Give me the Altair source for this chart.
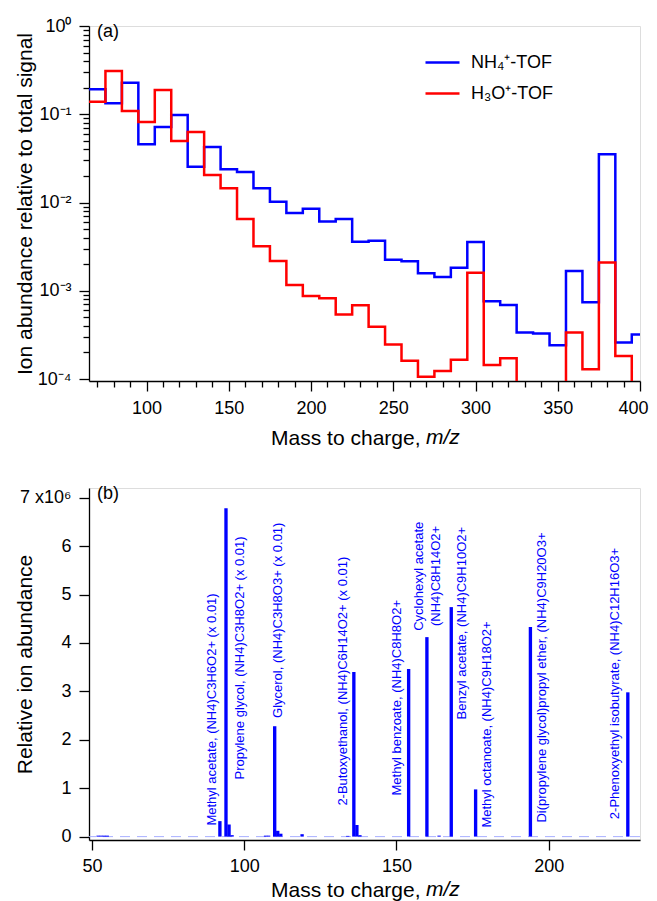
import altair as alt
import pandas as pd

FONT = "Liberation Sans"
BLUE = "#0000ff"
RED = "#ff0000"

# ---------------- Panel (a): binned ion abundance (10 m/z wide bins) ----------------
BIN_CENTRES = list(range(70, 401, 10))
NH4_TOF = [0.192, 0.133, 0.228, 0.0457, 0.0718, 0.098, 0.0255, 0.0426, 0.0238, 0.0222,
           0.0145, 0.0102, 0.0076, 0.0085, 0.0061, 0.0065, 0.0036, 0.0037, 0.00224, 0.00216,
           0.00158, 0.00143, 0.00182, 0.00358, 0.00076, 0.00069, 0.000337, 0.000328, 0.000242,
           0.00167, 0.00074, 0.0352, 0.00026, 0.00032]
BELOW = 5e-5  # below the bottom of the axis
H3O_TOF = [0.139, 0.309, 0.109, 0.0818, 0.188, 0.0499, 0.063, 0.0205, 0.0145, 0.0065,
           0.0032, 0.00218, 0.00116, 0.000875, 0.000824, 0.000538, 0.000687, 0.00039, 0.000246,
           0.000161, 0.000106, 0.000123, 0.000165, 0.0016, 0.000144, 0.000172, BELOW, BELOW,
           BELOW, 0.000337, 0.000129, 0.00209, 0.000182, BELOW]
SERIES = ["NH\u2084\u207a-TOF", "H\u2083O\u207a-TOF"]
HALF_BIN = 5
X_END = 400

# ---------------- Panel (b): spectrum ----------------
PEAK_MZ = [52, 53, 54, 55, 92, 94, 95, 96, 107, 108, 110, 111, 112, 119, 134, 136, 137, 138,
           154, 160, 164, 168, 176, 194, 226]
PEAK_ABUND_E6 = [0.02, 0.02, 0.02, 0.02, 0.32, 6.78, 0.25, 0.03, 0.02, 0.02, 2.28, 0.12, 0.06,
                 0.05, 0.015, 3.40, 0.24, 0.03, 3.46, 4.12, 0.02, 4.74, 0.975, 4.33, 2.98]
LABEL_TEXT = [
    "Methyl acetate, (NH4)C3H6O2+  (x 0.01)",
    "Propylene glycol, (NH4)C3H8O2+ (x 0.01)",
    "Glycerol, (NH4)C3H8O3+ (x 0.01)",
    "2-Butoxyethanol, (NH4)C6H14O2+ (x 0.01)",
    "Methyl benzoate, (NH4)C8H8O2+",
    "Cyclohexyl acetate",
    "(NH4)C8H14O2+",
    "Benzyl acetate, (NH4)C9H10O2+",
    "Methyl octanoate, (NH4)C9H18O2+",
    "Di(propylene glycol)propyl ether, (NH4)C9H20O3+",
    "2-Phenoxyethyl isobutyrate, (NH4)C12H16O3+",
]
LABEL_MZ = [89.4, 98.6, 111.0, 132.5, 150.2, 157.3, 162.9, 171.6, 179.8, 197.9, 221.9]
LABEL_Y_E6 = [0.227, 1.18, 2.45, 0.64, 0.85, 4.25, 4.35, 2.42, 0.186, 0.29, 0.36]

# ---------------- tables ----------------
rows = []
for name, vals in zip(SERIES, [NH4_TOF, H3O_TOF]):
    for c, v in zip(BIN_CENTRES, vals):
        rows.append({"series": name, "mz": c - HALF_BIN, "value": v})
    rows.append({"series": name, "mz": X_END, "value": vals[-1]})
df_a = pd.DataFrame(rows)

df_b = pd.DataFrame({"mz": PEAK_MZ, "abund": [v * 1e6 for v in PEAK_ABUND_E6]})
df_lab = pd.DataFrame({"mz": LABEL_MZ, "y": [v * 1e6 for v in LABEL_Y_E6], "text": LABEL_TEXT})

W = 551
HA = 355
HB = 352

axis_common = dict(
    domainColor="black", domainWidth=1.3, tickColor="black", tickWidth=1.3,
    labelFont=FONT, labelFontSize=18, labelColor="black",
    titleFont=FONT, titleFontSize=21, titleFontWeight="normal", titleColor="black",
    grid=False,
)

# ---- panel (a) ----
TA = 63
xa_vals = list(range(70, 401, 10))
x_a = alt.X(
    "mz:Q",
    scale=alt.Scale(domain=[65, 400], nice=False, zero=False),
    axis=alt.Axis(
        values=xa_vals,
        labelExpr="datum.value % 50 === 0 ? datum.label : ''",
        tickSize={"condition": {"test": "datum.value % 50 === 0", "value": 10}, "value": 6},
        labelPadding=8, labelFlush=True, labelFlushOffset=8,
        title="Mass to charge,",
        titleAlign="right", titleX=331, titleY=TA, titleBaseline="alphabetic",
        **axis_common,
    ),
)
ya_vals = [float(f"{m}e{e}") for e in range(-4, 0) for m in range(1, 10)] + [1.0]
major_test = "indexof([0.0001, 0.001, 0.01, 0.1, 1], datum.value) >= 0"
y_a = alt.Y(
    "value:Q",
    scale=alt.Scale(type="log", domain=[9.5e-5, 1], nice=False),
    axis=alt.Axis(
        values=ya_vals,
        labelExpr=("datum.value == 1 ? '10\u2070' : datum.value == 0.1 ? '10\u207b\u00b9' : "
                   "datum.value == 0.01 ? '10\u207b\u00b2' : datum.value == 0.001 ? '10\u207b\u00b3' : "
                   "datum.value == 0.0001 ? '10\u207b\u2074' : ''"),
        tickSize={"condition": {"test": major_test, "value": 10}, "value": 6},
        labelPadding=8, labelFlush=False,
        title="Ion abundance relative to total signal",
        titleX=-58, titleY=HA / 2, titleBaseline="alphabetic", titleAlign="center",
        **axis_common,
    ),
)
lines = alt.Chart(df_a).mark_line(interpolate="step-after", strokeWidth=2.5, clip=True).encode(
    x=x_a, y=y_a,
    color=alt.Color(
        "series:N",
        scale=alt.Scale(domain=SERIES, range=[BLUE, RED]),
        legend=alt.Legend(
            orient="none", legendX=335, legendY=18, title=None, symbolType="stroke",
            symbolSize=1156, symbolStrokeWidth=2.5, labelFont=FONT, labelFontSize=18,
            labelColor="black", labelOffset=10, rowPadding=3, padding=0,
        ),
    ),
    order="mz:Q",
)
tag_a = alt.Chart().mark_text(text="(a)", align="left", baseline="middle", font=FONT,
                              fontSize=18).encode(x=alt.value(8), y=alt.value(6))
mz_a = alt.Chart().mark_text(text="m/z", align="left", baseline="alphabetic", font=FONT,
                             fontSize=21, fontStyle="italic").encode(x=alt.value(337), y=alt.value(HA + TA))
panel_a = alt.layer(lines, tag_a, mz_a).properties(width=W, height=HA)

# ---- panel (b) ----
TB = 56
x_b_scale = alt.Scale(domain=[49, 230], nice=False, zero=False)
y_b_scale = alt.Scale(domain=[-0.07e6, 7.2e6], nice=False, zero=False)
x_b_axis = alt.Axis(values=[50, 100, 150, 200], tickSize=10, labelPadding=7, labelFlush=False,
                    title="Mass to charge,", titleAlign="right", titleX=331, titleY=TB,
                    titleBaseline="alphabetic", **axis_common)
y_b_axis = alt.Axis(values=[i * 1e6 for i in range(0, 8)], tickSize=10, labelPadding=8,
                    labelFlush=False,
                    labelExpr="datum.value == 7000000 ? '7 x10\u2076' : format(datum.value / 1e6, 'd')",
                    title="Relative ion abundance", titleX=-58, titleY=HB / 2,
                    titleBaseline="alphabetic", titleAlign="center", **axis_common)

baseline = alt.Chart().mark_rule(color="#a8b0ff", strokeDash=[10, 7], strokeWidth=1).encode(
    y=alt.datum(0, scale=y_b_scale))
bars = alt.Chart(df_b).mark_bar(color=BLUE).transform_calculate(
    lo="datum.mz - 0.55", hi="datum.mz + 0.55"
).encode(
    x=alt.X("lo:Q", scale=x_b_scale, axis=x_b_axis),
    x2="hi:Q",
    y=alt.Y("abund:Q", scale=y_b_scale, axis=y_b_axis),
    y2=alt.datum(0),
)
labels = alt.Chart(df_lab).mark_text(angle=270, align="left", baseline="middle", font=FONT,
                                     fontSize=13, color=BLUE).encode(
    x=alt.X("mz:Q", scale=x_b_scale), y=alt.Y("y:Q", scale=y_b_scale), text="text:N")
tag_b = alt.Chart().mark_text(text="(b)", align="left", baseline="middle", font=FONT,
                              fontSize=18).encode(x=alt.value(8), y=alt.value(6))
mz_b = alt.Chart().mark_text(text="m/z", align="left", baseline="alphabetic", font=FONT,
                             fontSize=21, fontStyle="italic").encode(x=alt.value(337), y=alt.value(HB + TB))
panel_b = alt.layer(baseline, bars, labels, tag_b, mz_b).properties(width=W, height=HB)

chart = alt.vconcat(panel_a, panel_b, spacing=35).resolve_scale(color="independent").properties(
    padding={"left": 5, "top": 8, "right": 0, "bottom": 0}
).configure_view(stroke=None).configure(font=FONT)

chart.save("out.html", embed_options={"renderer": "svg", "actions": False})
